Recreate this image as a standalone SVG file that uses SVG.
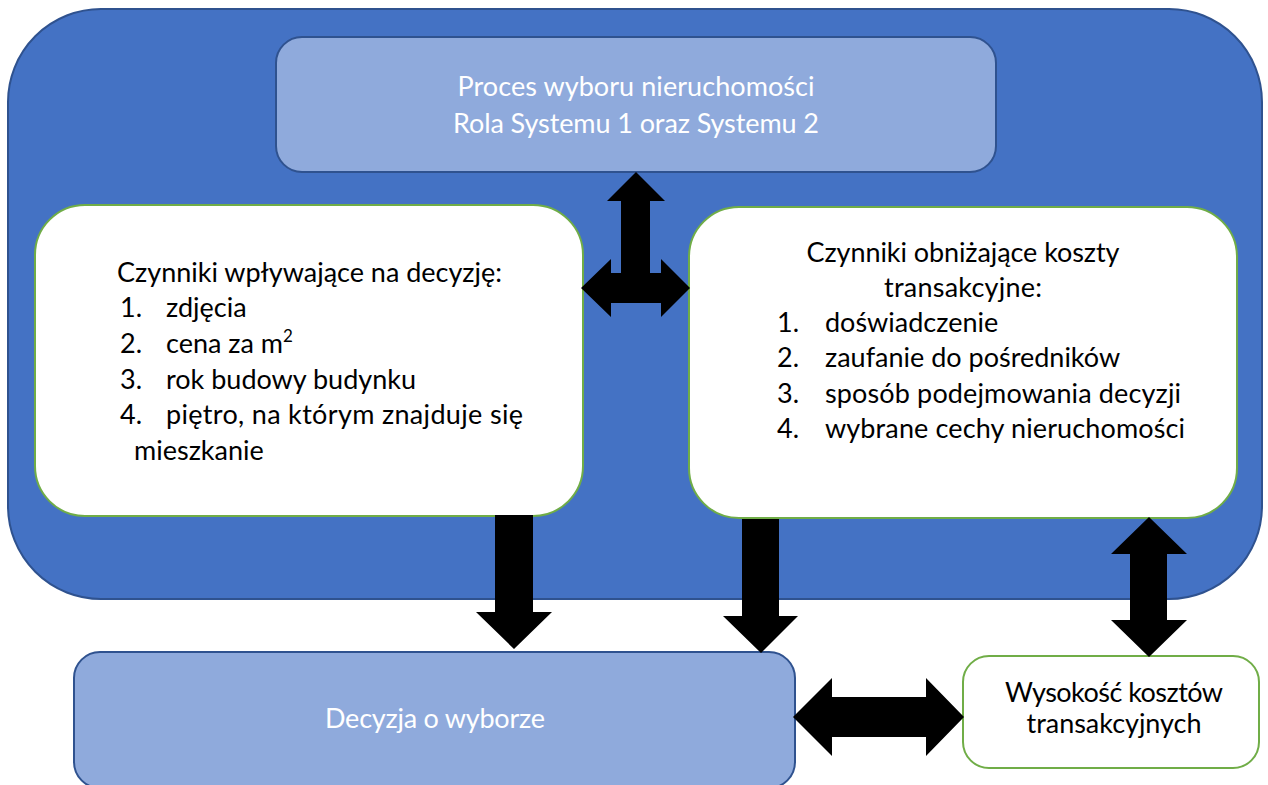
<svg xmlns="http://www.w3.org/2000/svg" width="1268" height="785" viewBox="0 0 1268 785">
<style>
.t{font-family:Lato,"Liberation Sans",sans-serif;font-size:27px;fill:#000}
.w{fill:#fff}
.m{text-anchor:middle}
.outer{fill:#4472C4;stroke:#2F528F;stroke-width:2}
.light{fill:#8FAADC;stroke:#2F528F;stroke-width:2}
.white{fill:#fff;stroke:#70AD47;stroke-width:2}
.arr{fill:#000;stroke:none}
</style>
<rect width="1268" height="785" fill="#fff"/>
<g id="container">
<rect class="outer" x="8" y="9" width="1254" height="590" rx="93" ry="93"/>
</g>
<g id="proces">
<rect class="light" x="276" y="37" width="720" height="135" rx="26" ry="26"/>
<text class="t w m" x="636" y="96" textLength="357">Proces wyboru nieruchomości</text>
<text class="t w m" x="636" y="133" textLength="366">Rola Systemu 1 oraz Systemu 2</text>
</g>
<g id="czynniki-wplywajace">
<rect class="white" x="35" y="205" width="548" height="311" rx="50" ry="50"/>
<text class="t" x="117" y="282" textLength="385">Czynniki wpływające na decyzję:</text>
<text class="t" x="120" y="317">1.</text><text class="t" x="166" y="317">zdjęcia</text>
<text class="t" x="120" y="353">2.</text><text class="t" x="166" y="353">cena za m<tspan font-size="17" dy="-11">2</tspan></text>
<text class="t" x="120" y="389">3.</text><text class="t" x="166" y="389">rok budowy budynku</text>
<text class="t" x="120" y="424">4.</text><text class="t" x="166" y="424" textLength="357">piętro, na którym znajduje się</text>
<text class="t" x="134" y="460">mieszkanie</text>
</g>
<g id="czynniki-obnizajace">
<rect class="white" x="689" y="207" width="548" height="311" rx="50" ry="50"/>
<text class="t m" x="963" y="262" textLength="313">Czynniki obniżające koszty</text>
<text class="t m" x="963" y="297" textLength="158">transakcyjne:</text>
<text class="t" x="777" y="332">1.</text><text class="t" x="825" y="332">doświadczenie</text>
<text class="t" x="777" y="367">2.</text><text class="t" x="825" y="367">zaufanie do pośredników</text>
<text class="t" x="777" y="403">3.</text><text class="t" x="825" y="403" textLength="356">sposób podejmowania decyzji</text>
<text class="t" x="777" y="438">4.</text><text class="t" x="825" y="438" textLength="360">wybrane cechy nieruchomości</text>
</g>
<g id="decyzja">
<rect class="light" x="74" y="652" width="721" height="136" rx="26" ry="26"/>
<text class="t w m" x="435" y="728" textLength="220">Decyzja o wyborze</text>
</g>
<g id="wysokosc">
<rect class="white" x="963" y="656" width="296" height="112" rx="26" ry="26"/>
<text class="t m" x="1114" y="702" textLength="218">Wysokość kosztów</text>
<text class="t m" x="1114" y="733" textLength="175">transakcyjnych</text>
</g>
<g id="connectors">
<polygon class="arr" points="581,288 611,259 611,273 621,273 621,201 607,201 636,172 665,201 650,201 650,273 661,273 661,259 690,288 661,317 661,303 611,303 611,317"/>
<polygon class="arr" points="495,515 533,515 533,612 552,612 514,649 476,612 495,612"/>
<polygon class="arr" points="742,519 779,519 779,616 798,616 761,653 723,616 742,616"/>
<polygon class="arr" points="793,717 832,678 832,697 926,697 926,678 964,717 926,756 926,737 832,737 832,756"/>
<polygon class="arr" points="1149,517 1187,554 1167,554 1167,620 1187,620 1149,657 1111,620 1130,620 1130,554 1111,554"/>
</g>
</svg>
